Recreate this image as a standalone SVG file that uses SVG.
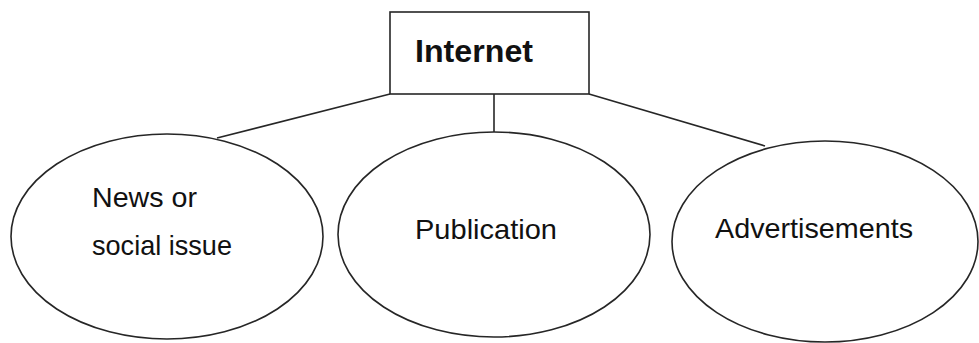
<svg xmlns="http://www.w3.org/2000/svg" width="979" height="343" viewBox="0 0 979 343">
<style>
.shape{fill:#fff;stroke:#262626;stroke-width:1.6}
.conn line{stroke:#262626;stroke-width:1.6}
.lbl{font-family:"Liberation Sans",Arial,sans-serif;font-size:28px;fill:#111}
.title{font-family:"Liberation Sans",Arial,sans-serif;font-size:31px;font-weight:bold;fill:#111}
</style>
<rect width="979" height="343" fill="#fff"/>
<g id="connectors" class="conn">
<line x1="390" y1="94" x2="217" y2="138"/>
<line x1="494" y1="94" x2="494" y2="132"/>
<line x1="589" y1="94" x2="765" y2="146"/>
</g>
<g id="internet">
<rect class="shape" x="390" y="12" width="199" height="82"/>
<text class="title" x="415" y="62" textLength="118" lengthAdjust="spacingAndGlyphs">Internet</text>
</g>
<g id="news">
<ellipse class="shape" cx="167" cy="236.5" rx="156" ry="102.5"/>
<text class="lbl" x="92" y="207" textLength="105" lengthAdjust="spacingAndGlyphs">News or</text>
<text class="lbl" x="92" y="255" textLength="140" lengthAdjust="spacingAndGlyphs">social issue</text>
</g>
<g id="publication">
<ellipse class="shape" cx="494" cy="234.5" rx="156" ry="102.5"/>
<text class="lbl" x="415" y="239" textLength="142" lengthAdjust="spacingAndGlyphs">Publication</text>
</g>
<g id="advertisements">
<ellipse class="shape" cx="825" cy="241.5" rx="153" ry="100.5"/>
<text class="lbl" x="715" y="238" textLength="198" lengthAdjust="spacingAndGlyphs">Advertisements</text>
</g>
</svg>
